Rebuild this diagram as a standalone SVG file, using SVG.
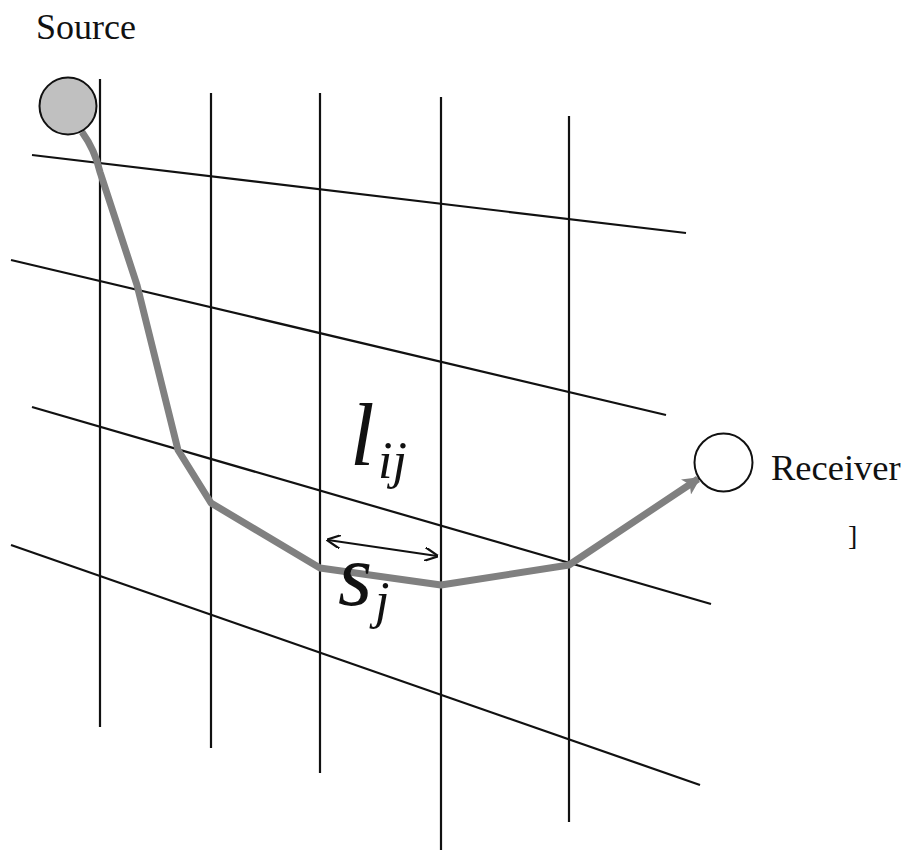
<svg xmlns="http://www.w3.org/2000/svg" width="910" height="852" viewBox="0 0 910 852">
<style>
.grid{stroke:#111;stroke-width:2.2;fill:none}
text{font-family:'Liberation Serif','Times New Roman',Times,serif;fill:#111}
.it{font-style:italic}
</style>
<defs>
<marker id="ah" viewBox="0 0 10 10" refX="9" refY="5" markerWidth="14" markerHeight="14" markerUnits="userSpaceOnUse" orient="auto-start-reverse">
<path d="M0,0 L10,5 L0,10" fill="none" stroke="#111" stroke-width="1.6"/>
</marker>
<marker id="gh" viewBox="0 0 10 10" refX="8" refY="5" markerWidth="22" markerHeight="18" markerUnits="userSpaceOnUse" orient="auto">
<path d="M0,0 L10,5 L0,10 L2.5,5 Z" fill="#808080"/>
</marker>
</defs>
<g id="grid">
<line class="grid" x1="100" y1="79" x2="100" y2="727"/>
<line class="grid" x1="211" y1="93" x2="211" y2="748"/>
<line class="grid" x1="320" y1="93" x2="320" y2="773"/>
<line class="grid" x1="441" y1="97" x2="441" y2="850"/>
<line class="grid" x1="569" y1="116" x2="569" y2="822"/>
<line class="grid" x1="32" y1="155" x2="686" y2="233"/>
<line class="grid" x1="11" y1="260" x2="666" y2="415"/>
<line class="grid" x1="32" y1="407" x2="711" y2="604"/>
<line class="grid" x1="11" y1="545" x2="700" y2="785"/>
</g>
<g id="connectors">
<path d="M82,132 Q95,150 100,172 L137,285 L178,450 L211,503 L320,568 L441,585 L569,565 L698,479" fill="none" stroke="#808080" stroke-width="7" stroke-linejoin="round" marker-end="url(#gh)"/>
<line x1="328" y1="540" x2="437" y2="556" stroke="#111" stroke-width="2" marker-start="url(#ah)" marker-end="url(#ah)"/>
</g>
<g id="source">
<circle cx="68" cy="106" r="28.5" fill="#c0c0c0" stroke="#111" stroke-width="2"/>
<text x="36" y="39" font-size="36">Source</text>
</g>
<g id="receiver">
<circle cx="723.5" cy="462.5" r="29" fill="#fff" stroke="#111" stroke-width="2"/>
<text x="771" y="480" font-size="36.5">Receiver</text>
<text x="848" y="545" font-size="28">]</text>
</g>
<g id="labels">
<text class="it" x="350" y="465" font-size="88">l</text>
<text class="it" x="378" y="478" font-size="52">ij</text>
<text class="it" x="338" y="605" font-size="88">s</text>
<text class="it" x="375" y="618" font-size="52">j</text>
</g>
</svg>
